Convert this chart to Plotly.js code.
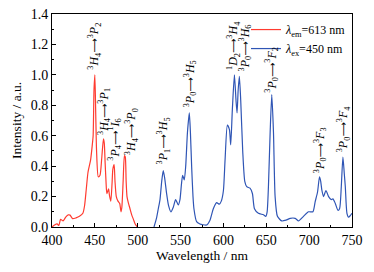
<!DOCTYPE html>
<html><head><meta charset="utf-8">
<script src="https://cdn.plot.ly/plotly-3.0.1.min.js"></script>
<style>html,body{margin:0;padding:0;background:#fff}#c{width:374px;height:272px}</style>
</head><body><div id="c"></div>
<script>
const redX = [400,403,406,408,410,413,416,419,421,424,428,432,436,438,440,442,445,447,448,449,450,451,452,454,456,458,460,461,462,463,464,466,467,468.6,470,471,472.5,473.5,475,477,479,480.5,481.5,483,484.5,485.5,486.5,487.5,489,491,493,495,497,499,500];
const redY = [0.0,0.013,0.02,0.01,0.05,0.04,0.065,0.08,0.078,0.055,0.06,0.07,0.09,0.14,0.25,0.36,0.44,0.54,0.6,0.9,1.0,0.75,0.5,0.33,0.34,0.45,0.58,0.55,0.42,0.3,0.22,0.25,0.21,0.17,0.28,0.38,0.41,0.3,0.2,0.17,0.155,0.1,0.13,0.3,0.47,0.46,0.3,0.2,0.16,0.12,0.08,0.05,0.02,0.005,0.0];
const blueX = [519,522,524,526,528,529.8,531.5,533.7,536,538.7,541.5,544.2,547.3,549.3,551,552.4,554.3,556,558,560.2,561.5,562.9,564.5,565.6,568.7,572.6,576,580.4,584.3,588.2,592.1,595.2,597.5,600,601.9,604.6,607,608.5,610.4,612.8,614.7,615.9,617.2,618.6,620.2,622.5,624.9,627.2,631,633.8,636.2,640.8,646.7,649.4,651,652.5,654.5,656.4,658.4,660.3,663,668,673,677.9,683.7,687.6,693.4,699.3,704.4,707,709.8,712.1,713.5,714.9,716.8,719.6,722.7,725.8,727.7,730.5,733.6,735.5,737.5,739.4,741,742.2,744.1,746,748,750];
const blueY = [0.0,0.06,0.12,0.18,0.3,0.37,0.32,0.22,0.14,0.1,0.13,0.18,0.145,0.18,0.28,0.34,0.31,0.4,0.62,0.75,0.62,0.4,0.2,0.12,0.035,0.02,0.015,0.013,0.045,0.12,0.16,0.15,0.17,0.24,0.44,0.67,0.64,0.54,0.77,1.0,0.83,0.75,0.9,0.99,0.83,0.5,0.3,0.265,0.255,0.22,0.12,0.09,0.08,0.07,0.1,0.265,0.62,0.87,0.62,0.2,0.07,0.04,0.045,0.057,0.057,0.04,0.07,0.1,0.1,0.165,0.23,0.33,0.3,0.24,0.2,0.24,0.2,0.18,0.185,0.155,0.11,0.12,0.265,0.46,0.35,0.265,0.09,0.065,0.075,0.09];

const AR = '<span style="font-family:DejaVu Sans;font-size:10px">⟶</span>';
const labelText = [
 '<sup>3</sup><i>H</i><sub>4</sub>'+AR+'<sup>3</sup><i>P</i><sub>2</sub>',
 '<sup>3</sup><i>H</i><sub>4</sub>'+AR+'<sup>3</sup><i>P</i><sub>1</sub>',
 '<sup>3</sup><i>P</i><sub>4</sub>'+AR+'<sup>1</sup><i>I</i><sub>6</sub>',
 '<sup>3</sup><i>H</i><sub>4</sub>'+AR+'<sup>3</sup><i>P</i><sub>0</sub>',
 '<sup>3</sup><i>P</i><sub>1</sub>'+AR+'<sup>3</sup><i>H</i><sub>5</sub>',
 '<sup>3</sup><i>P</i><sub>0</sub>'+AR+'<sup>3</sup><i>H</i><sub>5</sub>',
 '<sup>1</sup><i>D</i><sub>2</sub>'+AR+'<sup>3</sup><i>H</i><sub>4</sub>',
 '<sup>3</sup><i>P</i><sub>0</sub>'+AR+'<sup>3</sup><i>H</i><sub>6</sub>',
 '<sup>3</sup><i>P</i><sub>0</sub>'+AR+'<sup>3</sup><i>F</i><sub>2</sub>',
 '<sup>3</sup><i>P</i><sub>0</sub>'+AR+'<sup>3</sup><i>F</i><sub>3</sub>',
 '<sup>3</sup><i>P</i><sub>0</sub>'+AR+'<sup>3</sup><i>F</i><sub>4</sub>'
];
const labelX = [449.5,461,473,493,530.5,561,612,626,656.8,712.5,740.5];
const labelY = [1.02,0.59,0.42,0.46,0.40,0.77,1.02,1.01,0.87,0.34,0.48];

const serif = 'Liberation Serif, Times New Roman, serif';
const annotations = labelText.map((t,i)=>({
  x: labelX[i], y: labelY[i], xref:'x', yref:'y', text:t, showarrow:false,
  textangle:-90, xanchor:'center', yanchor:'bottom',
  font:{family:serif, size:12, color:'#000'}
}));

const data = [
 {x:redX, y:redY, type:'scatter', mode:'lines', line:{color:'#ff3b30', width:1.2, shape:'spline', smoothing:0.6}, name:'<i>λ</i><sub>em</sub>=613 nm'},
 {x:blueX, y:blueY, type:'scatter', mode:'lines', line:{color:'#2f55b5', width:1.2, shape:'spline', smoothing:0.6}, name:'<i>λ</i><sub>ex</sub>=450 nm'}
];

const axisCommon = {
  showline:true, mirror:true, linecolor:'#000', linewidth:1,
  ticks:'inside', ticklen:4, tickwidth:1, tickcolor:'#000',
  showgrid:false, zeroline:false,
  tickfont:{family:serif, size:14, color:'#000'}
};

const layout = {
  width:374, height:272,
  margin:{l:52, r:22, t:14, b:45},
  paper_bgcolor:'#fff', plot_bgcolor:'#fff',
  font:{family:serif, color:'#000'},
  showlegend:true,
  legend:{x:1.0, y:0.995, xanchor:'right', yanchor:'top', bgcolor:'rgba(0,0,0,0)', borderwidth:0,
    font:{family:serif, size:12, color:'#000'}, itemwidth:30, tracegroupgap:4},
  xaxis:Object.assign({}, axisCommon, {range:[400,750], dtick:50, tick0:400,
    minor:{ticks:'inside', ticklen:2, tickwidth:1, tickcolor:'#000', dtick:25},
    title:{text:'Wavelength / nm', font:{family:serif, size:13.5, color:'#000'}, standoff:3}}),
  yaxis:Object.assign({}, axisCommon, {range:[0,1.4], dtick:0.2, tickformat:'.1f',
    minor:{ticks:'inside', ticklen:2, tickwidth:1, tickcolor:'#000', dtick:0.1},
    title:{text:'Intensity / a.u.', font:{family:serif, size:13.5, color:'#000'}, standoff:5}}),
  annotations: annotations
};
Plotly.newPlot('c', data, layout, {staticPlot:true, displayModeBar:false});
</script>
</body></html>
